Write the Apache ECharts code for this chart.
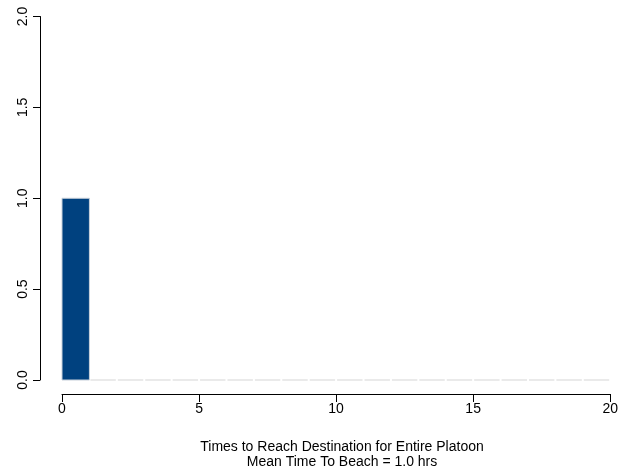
<!DOCTYPE html>
<html><head><meta charset="utf-8">
<script src="https://cdn.jsdelivr.net/npm/echarts@6/dist/echarts.min.js"></script>
<style>html,body{margin:0;padding:0;background:#fff}#c{width:621px;height:470px}</style>
</head><body><div id="c"></div>
<script>
const binStarts = [0,1,2,3,4,5,6,7,8,9,10,11,12,13,14,15,16,17,18,19];
const binEnds   = [1,2,3,4,5,6,7,8,9,10,11,12,13,14,15,16,17,18,19,20];
const counts    = [1,0,0,0,0,0,0,0,0,0,0,0,0,0,0,0,0,0,0,0];
const xTicks = [0,5,10,15,20];
const yTicks = [0,0.5,1,1.5,2];
const xTitle = 'Times to Reach Destination for Entire Platoon';
const subTitle = 'Mean Time To Beach = 1.0 hrs';

const data = binStarts.map((s,i)=>[s, binEnds[i], counts[i]]);
const chart = echarts.init(document.getElementById('c'), null, {renderer:'canvas'});
const font = 'Liberation Sans, Arial, sans-serif';
chart.setOption({
  animation:false,
  backgroundColor:'#fff',
  grid:{left:62, right:9, top:16.5, bottom:90},
  title:{text: xTitle + '\n' + subTitle, left:337, top:435, textAlign:'center',
    textStyle:{fontFamily:font, fontSize:14, fontWeight:'normal', color:'#000', lineHeight:15}},
  xAxis:{type:'value', min:0, max:20, interval:5, offset:14,
    axisLine:{show:true, onZero:false, lineStyle:{color:'#000', width:1}},
    axisTick:{show:true, length:8, lineStyle:{color:'#000'}},
    axisLabel:{fontFamily:font, fontSize:14, color:'#000', margin:8},
    splitLine:{show:false}},
  yAxis:{type:'value', min:0, max:2, interval:0.5, offset:22,
    axisLine:{show:true, onZero:false, lineStyle:{color:'#000', width:1}},
    axisTick:{show:true, length:7, lineStyle:{color:'#000'}},
    axisLabel:{fontFamily:font, fontSize:14, color:'#000', rotate:90, margin:10,
      formatter:v=>v.toFixed(1)},
    splitLine:{show:false}},
  series:[{
    type:'custom',
    data:data,
    encode:{x:[0,1], y:2},
    renderItem:function(params, api){
      const p0 = api.coord([api.value(0), 0]);
      const p1 = api.coord([api.value(1), api.value(2)]);
      if (api.value(2) === 0) {
        return {type:'line', shape:{x1:p0[0]+1, y1:p0[1], x2:p1[0]-1, y2:p0[1]},
          style:{stroke:'#e3e3e3', lineWidth:1.5}};
      }
      return {type:'rect', shape:{x:p0[0], y:p1[1], width:p1[0]-p0[0], height:p0[1]-p1[1]},
        style:{fill:'#00417f', stroke:'#c8d0da', lineWidth:1}};
    }
  }]
});
</script></body></html>
